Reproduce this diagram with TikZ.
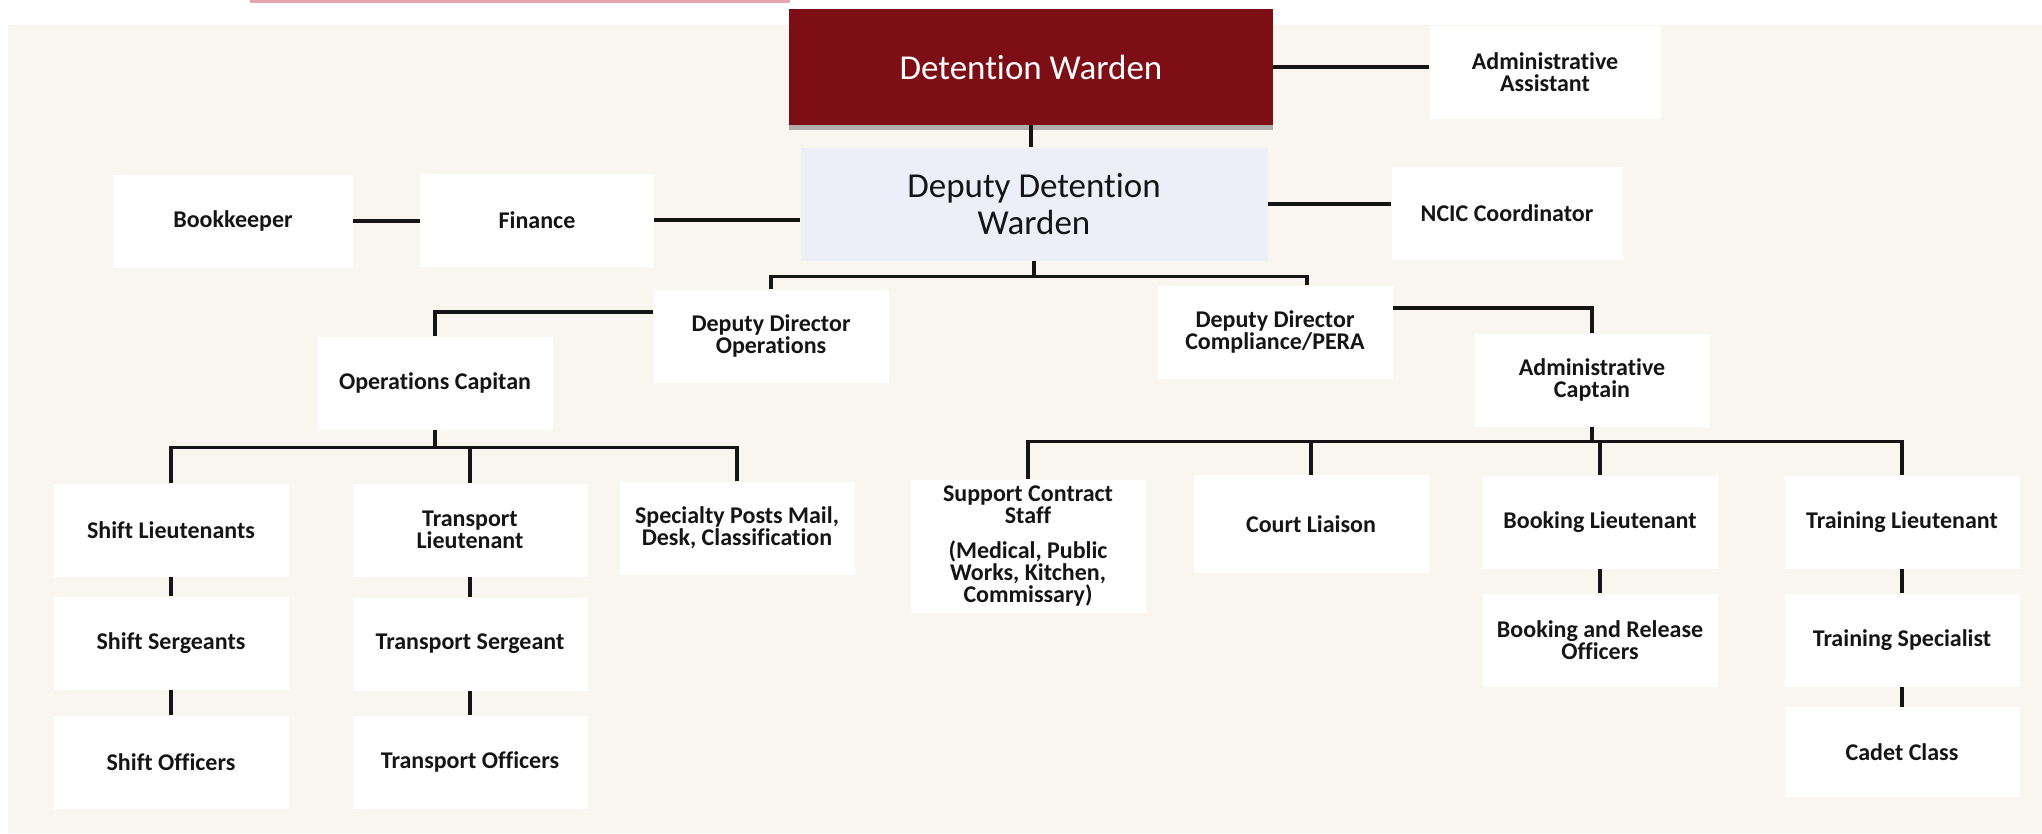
\documentclass[tikz,border=0pt]{standalone}
\usepackage{fontspec}
\setmainfont{Carlito}[Ligatures=NoCommon]
\usepackage{tikz}
\usetikzlibrary{positioning,shadows}
\definecolor{wardenred}{HTML}{7E0E16}
\definecolor{deputyblue}{HTML}{ECEEF8}
\definecolor{bgcream}{HTML}{F9F6F0}
\definecolor{topline}{HTML}{E9A3AA}
\definecolor{inkblack}{HTML}{151515}

\begin{document}
\begin{tikzpicture}[x=1pt,y=-1pt,
    post/.style={fill=white,text=inkblack,align=center,inner sep=0pt,minimum width=235pt,minimum height=93pt,font=\bfseries\fontsize{24}{22}\selectfont},
    head/.style={align=center,inner sep=0pt,font=\fontsize{35}{37}\selectfont},
    link/.style={line width=3.5pt,inkblack}]
  \useasboundingbox (0,0) rectangle (2042,833);
  \fill[white] (0,0) rectangle (2042,833);
  \fill[bgcream] (8,25) rectangle (2042,833);
  \fill[topline] (250,0) rectangle (790,3);

  \node[head,fill=wardenred,text=white,minimum width=484pt,minimum height=116pt,drop shadow={shadow xshift=0pt,shadow yshift=-5pt,opacity=.6}] (warden) at (1031,67) {Detention Warden};
  \node[head,fill=deputyblue,text=inkblack,minimum width=467pt,minimum height=113pt] (deputy) at (1034,204) {Deputy Detention\\Warden};

  \node[post,minimum width=231pt] (asst) at (1545,72) {Administrative\\Assistant};
  \node[post,minimum width=240pt] (bookkeeper) at (233,221) {Bookkeeper};
  \node[post,minimum width=234pt] (finance) at (537,220) {Finance};
  \node[post,minimum width=231pt] (ncic) at (1507,213) {NCIC Coordinator};

  \node[post] (ddops) at (771,336) {Deputy Director\\Operations};
  \node[post] (ddcomp) at (1275,332) {Deputy Director\\Compliance/PERA};
  \node[post] (opscap) at (435,383) {Operations Capitan};
  \node[post] (admcap) at (1592,380) {Administrative\\Captain};

  \node[post] (shiftlt) at (171,530) {Shift Lieutenants};
  \node[post] (shiftsgt) at (171,643) {Shift Sergeants};
  \node[post] (shiftoff) at (171,762) {Shift Officers};
  \node[post] (translt) at (470,530) {Transport\\Lieutenant};
  \node[post] (transsgt) at (470,644) {Transport Sergeant};
  \node[post] (transoff) at (470,762) {Transport Officers};
  \node[post] (specialty) at (737,528) {Specialty Posts Mail,\\Desk, Classification};

  \node[post,minimum height=133pt] (support) at (1028,546) {Support Contract\\Staff\\[13pt](Medical, Public\\Works, Kitchen,\\Commissary)};
  \node[post,minimum height=98pt] (court) at (1311,524) {Court Liaison};
  \node[post] (booklt) at (1600,522) {Booking Lieutenant};
  \node[post] (bookoff) at (1600,640) {Booking and Release\\Officers};
  \node[post] (trainlt) at (1902,522) {Training Lieutenant};
  \node[post] (trainspec) at (1902,640) {Training Specialist};
  \node[post,minimum height=90pt] (cadet) at (1902,752) {Cadet Class};

  \draw[link] (warden.east) -- (warden.east -| asst.west);
  \draw[link] (warden.south) -- (warden.south |- deputy.north);
  \draw[link] (bookkeeper.east) -- (bookkeeper.east -| finance.west);
  \draw[link] (finance.east) -- (finance.east -| deputy.west);
  \draw[link] (deputy.east) -- (deputy.east -| ncic.west);
  \draw[link] (deputy.south) --++ (0,16) -| (ddops.north);
  \draw[link] (deputy.south) --++ (0,16) -| ([xshift=32pt]ddcomp.north);
  \draw[link] (ddops.west) ++(0,-24) -| (opscap.north);
  \draw[link] (ddcomp.east) ++(0,-24) -| (admcap.north);
  \foreach \n in {shiftlt,translt,specialty}
    \draw[link] (opscap.south) --++ (0,18) -| (\n.north);
  \foreach \n in {support,court,booklt,trainlt}
    \draw[link] (admcap.south) --++ (0,15) -| (\n.north);
  \draw[link] (shiftlt.south) -- (shiftsgt.north);
  \draw[link] (shiftsgt.south) -- (shiftoff.north);
  \draw[link] (translt.south) -- (transsgt.north);
  \draw[link] (transsgt.south) -- (transoff.north);
  \draw[link] (booklt.south) -- (bookoff.north);
  \draw[link] (trainlt.south) -- (trainspec.north);
  \draw[link] (trainspec.south) -- (cadet.north);
\end{tikzpicture}
\end{document}
